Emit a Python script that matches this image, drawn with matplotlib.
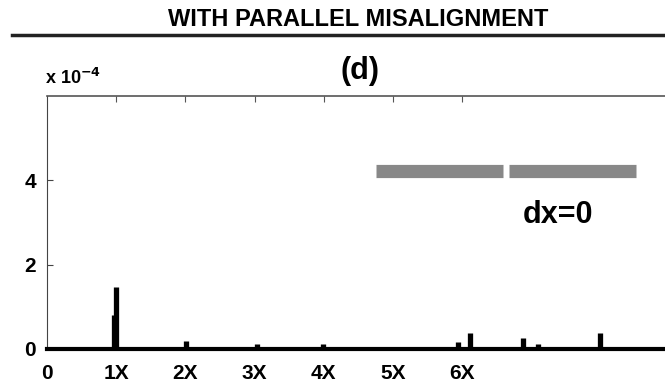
from matplotlib import pyplot as plt
from matplotlib.lines import Line2D

# espectro (d) - amplitud en unidades de 1e-4
freqs = [0.97, 1.0, 2.01, 3.03, 3.99, 5.0, 5.71, 5.94, 6.11, 6.36, 6.73, 6.88, 7.10, 7.89, 7.99]
amps = [0.8, 1.48, 0.2, 0.12, 0.12, 0.03, 0.02, 0.17, 0.38, 0.02, 0.02, 0.26, 0.12, 0.03, 0.38]

xtick_vals = [0, 1, 2, 3, 4, 5, 6]
xtick_txt = ["0", "1X", "2X", "3X", "4X", "5X", "6X"]
ytick_vals = [0, 2, 4]
top_ticks = [1, 2, 3, 4, 5, 6]

legend_segs = [(4.75, 6.59), (6.68, 8.51)]
legend_y = 4.22
label_txt = "dx=0"

plt.rcParams['font.family'] = ['Liberation Sans', 'DejaVu Sans']
plt.rcParams['font.weight'] = 'bold'

fig = plt.figure(figsize=(6.65, 3.82), dpi=100)
ax = fig.add_axes([0.0707, 0.0864, 0.9293, 0.662])

ax.vlines(freqs, 0, amps, color='black', lw=3.8)
for x0, x1 in legend_segs:
    ax.plot([x0, x1], [legend_y, legend_y], color='#888888', lw=9.5, solid_capstyle='butt')
ax.text(7.38, 3.19, label_txt, fontsize=22, ha='center', va='center')

ax.set_xlim(0, 8.93)
ax.set_ylim(0, 6)
ax.set_xticks(xtick_vals)
ax.set_xticklabels(xtick_txt, fontsize=15, fontweight='bold')
ax.set_yticks(ytick_vals)
ax.set_yticklabels([str(v) for v in ytick_vals], fontsize=15, fontweight='bold')
ax.tick_params(axis='x', length=0, pad=11)
ax.tick_params(axis='y', direction='in', length=4, color='#444444', pad=8)

ax.spines['right'].set_visible(False)
ax.spines['bottom'].set_linewidth(3)
ax.spines['left'].set_color('#444444')
ax.spines['top'].set_color('#555555')
ax.spines['top'].set_linewidth(1.2)

ax2 = ax.twiny()
ax2.set_xlim(ax.get_xlim())
ax2.set_xticks(top_ticks)
ax2.set_xticklabels([])
ax2.tick_params(axis='x', direction='in', length=4, color='#555555')
for s in ax2.spines.values():
    s.set_visible(False)

fig.text(0.068, 0.77, r"x 10$^{\mathbf{-4}}$", fontsize=13, ha='left', va='bottom')
fig.text(0.541, 0.814, "(d)", fontsize=22, ha='center', va='center', fontweight='bold')

fig.text(0.538, 0.95, "WITH PARALLEL MISALIGNMENT", fontsize=17, ha='center', va='center', fontweight='bold')
fig.add_artist(Line2D([0.018, 1], [0.908, 0.908], color='#222222', lw=2.5, transform=fig.transFigure))

plt.savefig("out.png", dpi=100)
